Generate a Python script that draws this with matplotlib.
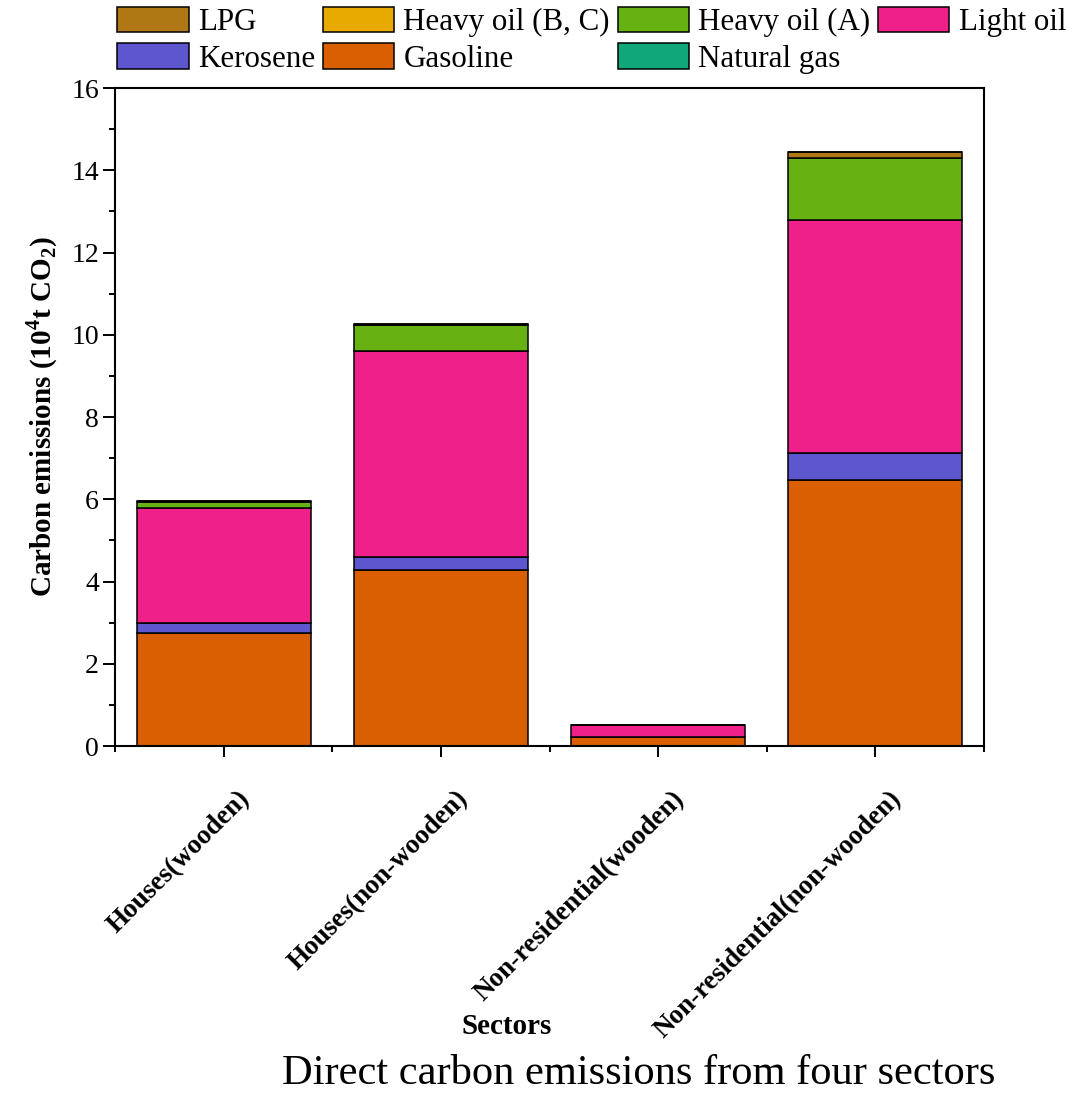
import matplotlib
matplotlib.use("Agg")
import matplotlib.pyplot as plt
import matplotlib.transforms as mtransforms
from matplotlib.ticker import MultipleLocator, FixedLocator
import numpy as np

plt.rcParams["font.family"] = ["Liberation Serif", "DejaVu Serif"]
plt.rcParams["mathtext.fontset"] = "custom"
plt.rcParams["mathtext.rm"] = "Liberation Serif"
plt.rcParams["mathtext.bf"] = "Liberation Serif:bold"

# Sectors and fuel-wise direct emissions (10^4 t CO2)
sectors = ["Houses(wooden)", "Houses(non-wooden)",
           "Non-residential(wooden)", "Non-residential(non-wooden)"]
gasoline = [2.74, 4.28, 0.21, 6.47]
kerosene = [0.24, 0.31, 0.01, 0.65]
light_oil = [2.80, 5.01, 0.29, 5.67]
heavy_oil_a = [0.15, 0.63, 0.00, 1.52]
heavy_oil_bc = [0.00, 0.00, 0.00, 0.00]
lpg = [0.03, 0.03, 0.00, 0.14]
natural_gas = [0.00, 0.00, 0.00, 0.00]

# stacking order, bottom to top
stack = [
    ("Gasoline", gasoline, "#D95F02"),
    ("Kerosene", kerosene, "#5E56CE"),
    ("Light oil", light_oil, "#F0208A"),
    ("Heavy oil (A)", heavy_oil_a, "#67B212"),
    ("Heavy oil (B, C)", heavy_oil_bc, "#E8AA00"),
    ("LPG", lpg, "#B07814"),
    ("Natural gas", natural_gas, "#10A878"),
]

fig = plt.figure(figsize=(10.86, 10.96), dpi=100)
ax = fig.add_axes([0.1059, 0.3193, 0.8002, 0.6004])

x = np.arange(1, len(sectors) + 1)
bottom = np.zeros(len(sectors))
handles = {}
for name, vals, color in stack:
    vals = np.asarray(vals, dtype=float)
    bars = ax.bar(x, vals, width=0.8, bottom=bottom, color=color,
                  edgecolor="black", linewidth=1.1, label=name)
    handles[name] = bars
    bottom += vals

ax.set_xlim(0.5, 4.5)
ax.set_ylim(0, 16)
ax.yaxis.set_major_locator(MultipleLocator(2))
ax.yaxis.set_minor_locator(MultipleLocator(1))
ax.xaxis.set_major_locator(FixedLocator(x))
ax.xaxis.set_minor_locator(FixedLocator(np.arange(0.5, 4.6, 1.0)))

for s in ax.spines.values():
    s.set_linewidth(1.5)
ax.tick_params(which="major", direction="out", length=8, width=1.4)
ax.tick_params(which="minor", direction="out", length=4.5, width=1.4)
ax.tick_params(axis="y", which="major", length=8.5, labelsize=20, pad=3)
ax.tick_params(axis="x", which="major", pad=21)

ax.set_xticklabels(sectors, rotation=45, ha="right", va="top",
                   rotation_mode="anchor", fontsize=19.5, fontweight="bold")
shift = mtransforms.ScaledTranslation(0.14, 0, fig.dpi_scale_trans)
for lab in ax.get_xticklabels():
    lab.set_transform(lab.get_transform() + shift)

ax.set_ylabel(r"Carbon emissions (10$^{\mathbf{4}}$t CO$_{\mathbf{2}}$)",
              fontsize=21, fontweight="bold", labelpad=8)
ax.set_xlabel("Sectors", fontsize=21, fontweight="bold")
ax.xaxis.set_label_coords(0.451, -0.405)

order = ["LPG", "Kerosene", "Heavy oil (B, C)", "Gasoline",
         "Heavy oil (A)", "Natural gas", "Light oil"]
fig.legend([handles[n] for n in order], order, ncol=4,
           loc="upper left", bbox_to_anchor=(0.108, 0.994),
           frameon=False, fontsize=22.3, handlelength=2.3, handleheight=0.9,
           handletextpad=0.3, columnspacing=0.25, labelspacing=0.2,
           borderpad=0, borderaxespad=0)

fig.text(0.588, 0.003, "Direct carbon emissions from four sectors",
         ha="center", va="bottom", fontsize=30.6)

fig.savefig("out.png", dpi=100)
